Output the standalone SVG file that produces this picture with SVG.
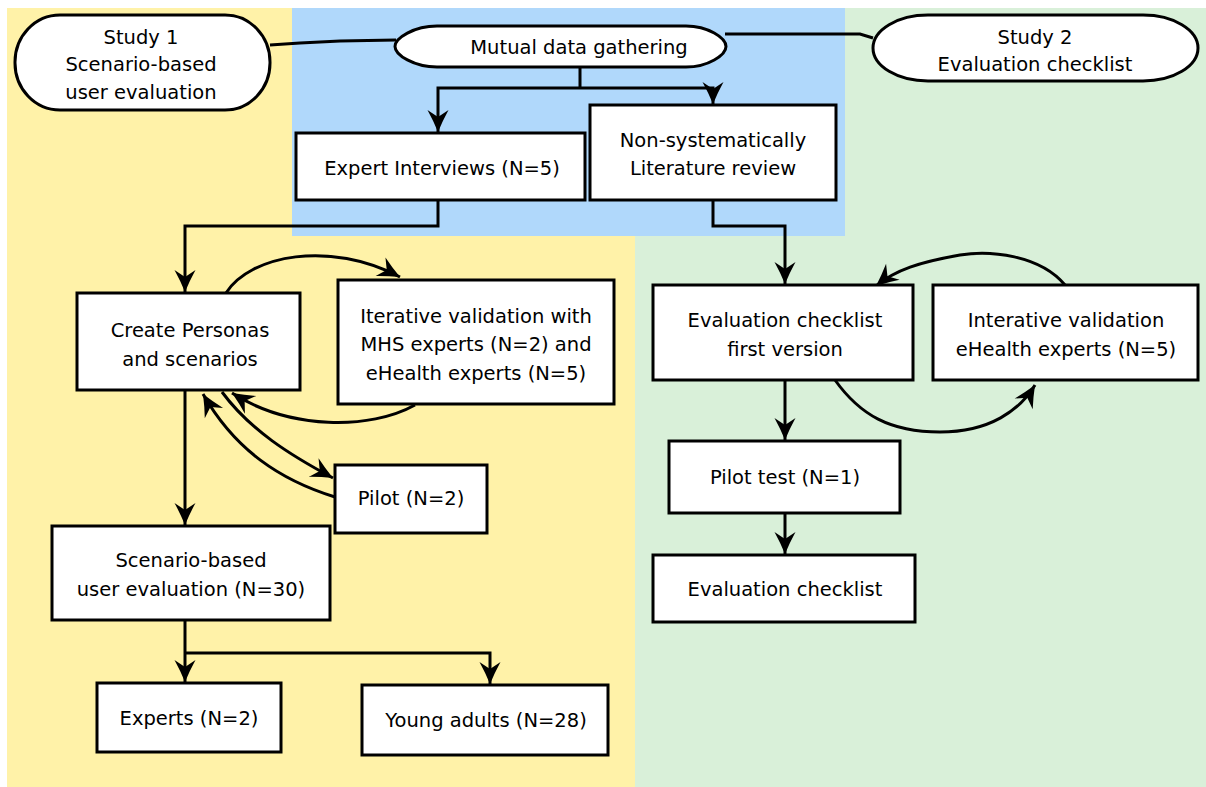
<svg xmlns="http://www.w3.org/2000/svg" width="1206" height="787" viewBox="0 0 1206 787">
<style>
.node{fill:#fff;stroke:#000;stroke-width:3}
.t{font-family:"DejaVu Sans",Verdana,sans-serif;font-size:19.5px;fill:#000;text-anchor:middle}
.c{fill:none;stroke:#000;stroke-width:3}
.a{marker-end:url(#ah)}
</style>
<defs>
<marker id="ah" markerUnits="userSpaceOnUse" viewBox="-1 -12 25 24" markerWidth="25" markerHeight="24" refX="22" refY="0" orient="auto">
<path d="M0,-10.5 Q10,-5 22,0 Q10,5 0,10.5 L7,0 Z" fill="#000"/>
</marker>
</defs>
<rect width="1206" height="787" fill="#fff"/>
<g id="backgrounds">
<rect x="7" y="8" width="628" height="779" fill="#fff2a8"/>
<rect x="635" y="8" width="571" height="779" fill="#d9f0d9"/>
<rect x="292" y="8" width="553" height="228" fill="#b0d8fb"/>
</g>
<g id="connectors">
<path class="c" d="M270,45 L300,43 L340,41 L396,40"/>
<path class="c" d="M725,34 L860,34 L873,38"/>
<path class="c" d="M580,67 V88"/>
<path class="c a" d="M580,88 H438 V132"/>
<path class="c a" d="M580,88 H713 V104"/>
<path class="c a" d="M438,200 V226 H185 V292"/>
<path class="c a" d="M713,200 V226 H785 V284"/>
<path class="c a" d="M185,390 V525"/>
<path class="c a" d="M226,293 C250,255 330,240 400,277"/>
<path class="c a" d="M415,405 C370,430 290,430 232,393"/>
<path class="c a" d="M222,392 C250,430 290,455 333,478"/>
<path class="c a" d="M335,497 C280,480 235,450 203,394"/>
<path class="c" d="M185,620 V653"/>
<path class="c a" d="M185,653 V682"/>
<path class="c a" d="M185,653 H490 V684"/>
<path class="c a" d="M785,380 V440"/>
<path class="c a" d="M785,513 V554"/>
<path class="c a" d="M835,380 C860,415 890,432 940,432 C990,432 1020,410 1035,385"/>
<path class="c a" d="M1065,285 C1040,255 990,250 960,255 C920,262 895,270 876,286"/>
</g>
<g id="study1">
<rect class="node" x="15" y="15" width="255" height="95" rx="45" ry="47"/>
<text class="t" x="141" y="44">Study 1</text>
<text class="t" x="141" y="71">Scenario-based</text>
<text class="t" x="141" y="99">user evaluation</text>
</g>
<g id="mutual">
<path class="node" d="M437,26 H686 C708,26 726,38 726,46.5 C726,55 708,67 686,67 H437 C414,67 395,55 395,46.5 C395,38 414,26 437,26 Z"/>
<text class="t" x="579" y="54">Mutual data gathering</text>
</g>
<g id="study2">
<rect class="node" x="873" y="15" width="325" height="66" rx="55" ry="33"/>
<text class="t" x="1035" y="44">Study 2</text>
<text class="t" x="1035" y="71">Evaluation checklist</text>
</g>
<g id="expert-interviews">
<rect class="node" x="296" y="133" width="289" height="67"/>
<text class="t" x="442" y="175">Expert Interviews (N=5)</text>
</g>
<g id="literature">
<rect class="node" x="590" y="105" width="246" height="95"/>
<text class="t" x="713" y="147">Non-systematically</text>
<text class="t" x="713" y="175">Literature review</text>
</g>
<g id="personas">
<rect class="node" x="77" y="293" width="223" height="97"/>
<text class="t" x="190" y="337">Create Personas</text>
<text class="t" x="190" y="366">and scenarios</text>
</g>
<g id="iterative">
<rect class="node" x="338" y="280" width="276" height="124"/>
<text class="t" x="476" y="323">Iterative validation with</text>
<text class="t" x="476" y="351">MHS experts (N=2) and</text>
<text class="t" x="476" y="380">eHealth experts (N=5)</text>
</g>
<g id="pilot">
<rect class="node" x="335" y="465" width="152" height="68"/>
<text class="t" x="411" y="505">Pilot (N=2)</text>
</g>
<g id="scenario-eval">
<rect class="node" x="52" y="526" width="278" height="94"/>
<text class="t" x="191" y="567">Scenario-based</text>
<text class="t" x="191" y="596">user evaluation (N=30)</text>
</g>
<g id="experts">
<rect class="node" x="97" y="683" width="184" height="69"/>
<text class="t" x="189" y="725">Experts (N=2)</text>
</g>
<g id="young">
<rect class="node" x="362" y="685" width="246" height="70"/>
<text class="t" x="486" y="727">Young adults (N=28)</text>
</g>
<g id="checklist-first">
<rect class="node" x="653" y="285" width="260" height="95"/>
<text class="t" x="785" y="327">Evaluation checklist</text>
<text class="t" x="785" y="356">first version</text>
</g>
<g id="interative">
<rect class="node" x="933" y="285" width="265" height="95"/>
<text class="t" x="1066" y="327">Interative validation</text>
<text class="t" x="1066" y="356">eHealth experts (N=5)</text>
</g>
<g id="pilot-test">
<rect class="node" x="669" y="441" width="231" height="72"/>
<text class="t" x="785" y="484">Pilot test (N=1)</text>
</g>
<g id="checklist">
<rect class="node" x="653" y="555" width="262" height="67"/>
<text class="t" x="785" y="596">Evaluation checklist</text>
</g>
</svg>
